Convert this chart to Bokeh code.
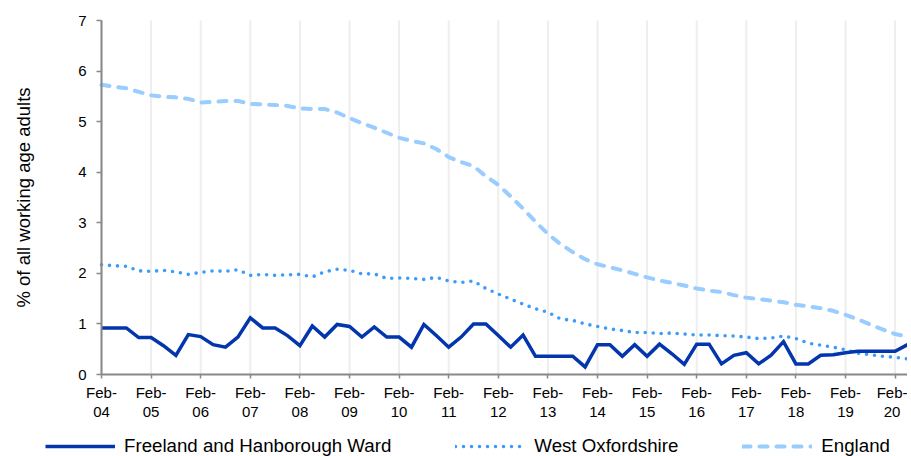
from bokeh.plotting import figure
from bokeh.models import Range1d, FixedTicker, Legend, LegendItem
from bokeh.embed import file_html
from bokeh.resources import INLINE

# ---- data (quarterly, Feb-04 .. May-20) ----
freeland = [0.92, 0.92, 0.92, 0.73, 0.73, 0.57, 0.38, 0.79, 0.75, 0.59,
            0.54, 0.74, 1.12, 0.92, 0.92, 0.77, 0.57, 0.96, 0.74, 0.99,
            0.95, 0.74, 0.94, 0.74, 0.74, 0.54, 0.99, 0.77, 0.54, 0.74,
            1.00, 1.00, 0.77, 0.54, 0.78, 0.36, 0.36, 0.36, 0.36, 0.15,
            0.59, 0.59, 0.36, 0.59, 0.36, 0.60, 0.41, 0.20, 0.60, 0.60,
            0.21, 0.38, 0.43, 0.21, 0.38, 0.65, 0.21, 0.21, 0.38, 0.39,
            0.43, 0.46, 0.46, 0.46, 0.46, 0.59]

west_oxon = [2.17, 2.15, 2.14, 2.05, 2.04, 2.06, 2.03, 1.98, 2.02, 2.05,
             2.04, 2.07, 1.96, 1.98, 1.96, 1.97, 1.98, 1.93, 2.03, 2.08,
             2.06, 1.99, 1.99, 1.90, 1.91, 1.90, 1.88, 1.92, 1.85, 1.82,
             1.85, 1.70, 1.59, 1.49, 1.39, 1.30, 1.23, 1.10, 1.07, 1.00,
             0.95, 0.90, 0.87, 0.83, 0.83, 0.81, 0.82, 0.80, 0.78, 0.78,
             0.77, 0.76, 0.74, 0.71, 0.72, 0.76, 0.71, 0.62, 0.58, 0.54,
             0.49, 0.42, 0.39, 0.36, 0.34, 0.31]

england = [5.73, 5.69, 5.66, 5.59, 5.52, 5.49, 5.48, 5.45, 5.38, 5.39,
           5.41, 5.41, 5.35, 5.34, 5.33, 5.31, 5.26, 5.25, 5.25, 5.18,
           5.07, 4.97, 4.88, 4.78, 4.68, 4.62, 4.57, 4.46, 4.30, 4.20,
           4.12, 3.92, 3.75, 3.52, 3.28, 3.02, 2.78, 2.58, 2.42, 2.28,
           2.18, 2.12, 2.06, 1.99, 1.92, 1.86, 1.81, 1.76, 1.70, 1.66,
           1.63, 1.57, 1.52, 1.49, 1.46, 1.43, 1.38, 1.35, 1.31, 1.26,
           1.18, 1.09, 0.99, 0.89, 0.80, 0.75]

quarter_index = list(range(len(freeland)))

tick_positions = [0, 4, 8, 12, 16, 20, 24, 28, 32, 36, 40, 44, 48, 52, 56, 60, 64]
tick_labels = ["Feb-\n04", "Feb-\n05", "Feb-\n06", "Feb-\n07", "Feb-\n08", "Feb-\n09",
               "Feb-\n10", "Feb-\n11", "Feb-\n12", "Feb-\n13", "Feb-\n14", "Feb-\n15",
               "Feb-\n16", "Feb-\n17", "Feb-\n18", "Feb-\n19", "Feb-\n20"]
y_ticks = [0, 1, 2, 3, 4, 5, 6, 7]

series_names = ["Freeland and Hanborough Ward", "West Oxfordshire", "England"]
y_label = "% of all working age adults"

FONT = "Liberation Sans"

# ---- layout geometry (pixels) ----
W, H = 907, 456
PLOT_L, PLOT_R, PLOT_T, PLOT_B = 101, 907, 20, 374

x_lo, x_hi = quarter_index[0], quarter_index[-1]
y_lo, y_hi = y_ticks[0], y_ticks[-1]
xs = (PLOT_R - PLOT_L) / (x_hi - x_lo)
ys = (PLOT_B - PLOT_T) / (y_hi - y_lo)
x_range = Range1d(x_lo - PLOT_L / xs, x_hi + (W - PLOT_R) / xs)
y_range = Range1d(y_lo - (H - PLOT_B) / ys, y_hi + PLOT_T / ys)

p = figure(width=W, height=H, x_range=x_range, y_range=y_range,
           output_backend="svg", toolbar_location=None,
           min_border_left=0, min_border_right=0, min_border_top=0,
           min_border_bottom=0)
p.outline_line_color = None
p.background_fill_color = "white"
p.grid.grid_line_color = None

# vertical gridlines at the year ticks, only within the plot area
p.segment(x0=tick_positions, y0=[y_lo] * len(tick_positions),
          x1=tick_positions, y1=[y_hi] * len(tick_positions),
          line_color="#eeeeee", line_width=2)

r_eng = p.line(quarter_index, england, line_color="#99ccff", line_width=4,
               line_dash="8 9", line_cap="round")
r_wo = p.line(quarter_index, west_oxon, line_color="#3d9bfa", line_width=3.6,
              line_dash="0 8", line_cap="round")
r_fr = p.line(quarter_index, freeland, line_color="#0335ad", line_width=3.5,
              line_join="miter")

# axes pinned at the data origin
p.xaxis.fixed_location = y_lo
p.yaxis.fixed_location = x_lo
p.xaxis.bounds = (x_lo, x_hi)
p.yaxis.bounds = (y_lo, y_hi)
p.xaxis.ticker = FixedTicker(ticks=tick_positions)
p.xaxis.major_label_overrides = {t: l for t, l in zip(tick_positions, tick_labels)}
p.yaxis.ticker = FixedTicker(ticks=y_ticks)
for ax in (p.xaxis, p.yaxis):
    ax.axis_line_color = "#888888"
    ax.axis_line_width = 2
    ax.major_tick_line_color = "#888888"
    ax.major_tick_line_width = 1.5
    ax.major_tick_in = 0
    ax.minor_tick_line_color = None
    ax.major_label_text_font = FONT
    ax.major_label_text_font_size = "15px"
    ax.major_label_text_color = "black"
p.xaxis.major_tick_out = 4
p.yaxis.major_tick_out = 5
p.xaxis.major_label_standoff = 5
p.xaxis.major_label_text_line_height = 1.15
p.yaxis.major_label_standoff = 10

p.yaxis.axis_label = y_label
p.yaxis.axis_label_text_font = FONT
p.yaxis.axis_label_text_font_size = "18.5px"
p.yaxis.axis_label_text_font_style = "normal"
p.yaxis.axis_label_text_color = "black"
p.yaxis.axis_label_standoff = 41

legend = Legend(items=[LegendItem(label=series_names[0], renderers=[r_fr]),
                       LegendItem(label=series_names[1], renderers=[r_wo]),
                       LegendItem(label=series_names[2], renderers=[r_eng])],
                orientation="horizontal", location=(45, -1),
                glyph_width=70, glyph_height=20, label_standoff=9, spacing=64,
                padding=0, margin=0, border_line_alpha=0,
                background_fill_alpha=0,
                label_text_font=FONT, label_text_font_size="18.7px",
                label_text_color="black")
p.add_layout(legend, "center")

open("out.html", "w").write(file_html(p, INLINE))
